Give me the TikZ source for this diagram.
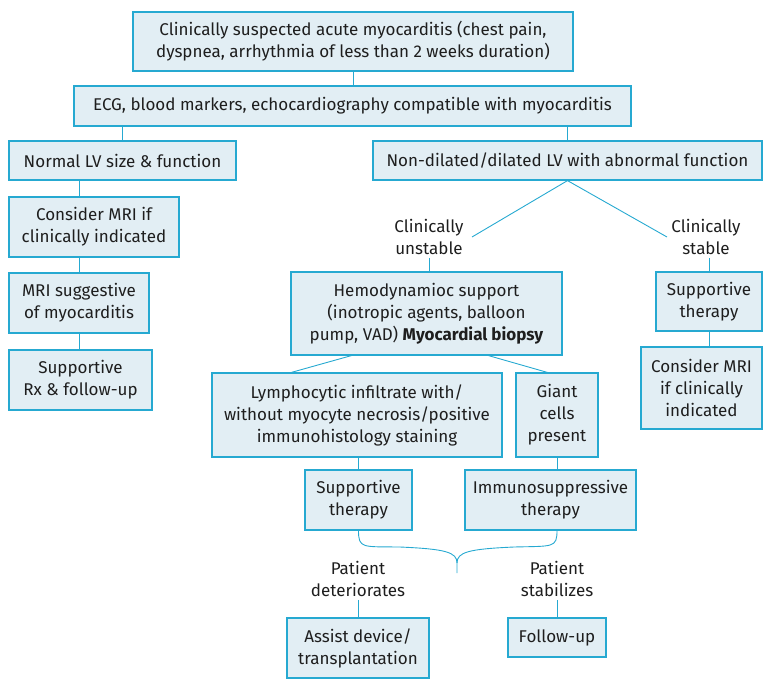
\documentclass[tikz,border=0pt]{standalone}
\usepackage{fontspec}
\setmainfont{Fira Sans}
\usetikzlibrary{calc}
\definecolor{lineblue}{RGB}{38,169,209}
\definecolor{boxfill}{RGB}{226,238,244}
\definecolor{inkgray}{RGB}{30,30,30}
\tikzset{
  box/.style={draw=lineblue, fill=boxfill, line width=1.2pt, align=center, inner sep=0pt, text=inkgray},
  link/.style={draw=lineblue, line width=0.9pt},
  lbl/.style={align=center, inner sep=3pt, text=inkgray}
}
\begin{document}
\begin{tikzpicture}[x=1pt, y=-1pt, font=\fontsize{17}{22}\selectfont]
  \useasboundingbox (0,0) rectangle (763,683);
  %--- Top
  \node[box, minimum width=440pt, minimum height=59pt] (top) at (353,41.5)
    {Clinically suspected acute myocarditis (chest pain,\\dyspnea, arrhythmia of less than 2 weeks duration)};
  \node[box, minimum width=557pt, minimum height=40pt] (ecg) at (352.5,106)
    {ECG, blood markers, echocardiography compatible with myocarditis};
  \draw[link] (top.south) -- (top.south |- ecg.north);
  %--- Left branch
  \node[box, minimum width=227pt, minimum height=39pt] (normal) at (122.5,160.5) {Normal LV size \& function};
  \node[box, minimum width=170pt, minimum height=60pt] (mriA) at (94,227) {Consider MRI if\\clinically indicated};
  \node[box, minimum width=140pt, minimum height=60pt] (mriB) at (79,303) {MRI suggestive\\of myocarditis};
  \node[box, minimum width=143pt, minimum height=60pt] (rx) at (80.5,380) {Supportive\\Rx \& follow-up};
  \draw[link] (normal.north |- ecg.south) -- (normal.north);
  \draw[link] (mriB.north |- normal.south) -- (mriB.north |- mriA.north);
  \draw[link] (mriB.north |- mriA.south) -- (mriB.north);
  \draw[link] (mriB.south) -- (mriB.south |- rx.north);
  %--- Right branch
  \node[box, minimum width=389pt, minimum height=39pt] (nondil) at (567.5,160.5)
    {Non-dilated/dilated LV with abnormal function};
  \draw[link] (nondil.north |- ecg.south) -- (nondil.north);
  \coordinate (ul) at (472,237);
  \coordinate (sl) at (667,237);
  \draw[link] (ul) -- (nondil.south) -- (sl);
  \node[lbl] (unstable) at (429,237) {Clinically\\unstable};
  \node[lbl] (stable) at (706,237) {Clinically\\stable};
  %--- Stable
  \node[box, minimum width=106pt, minimum height=59pt] (suppC) at (709,301.5) {Supportive\\therapy};
  \node[box, minimum width=121pt, minimum height=82pt] (mriC) at (701.5,388) {Consider MRI\\if clinically\\indicated};
  \draw[link] (suppC.north |- stable.south) -- (suppC.north);
  \draw[link] (suppC.south) -- (suppC.south |- mriC.north);
  %--- Unstable
  \node[box, minimum width=271pt, minimum height=83pt] (hemo) at (426.5,313.5)
    {Hemodynamioc support\\(inotropic agents, balloon\\pump, VAD) \textbf{Myocardial biopsy}};
  \draw[link] (unstable.south) -- (unstable.south |- hemo.north);
  \node[box, minimum width=290pt, minimum height=84pt] (lymph) at (357,415)
    {Lymphocytic infiltrate with/\\without myocyte necrosis/positive\\immunohistology staining};
  \node[box, minimum width=82pt, minimum height=84pt] (giant) at (557,415) {Giant\\cells\\present};
  \draw[link] ([xshift=61pt]hemo.south west) -- ([xshift=80pt]lymph.north west);
  \draw[link] ([xshift=-74pt]hemo.south east) -- ([xshift=32pt]giant.north west);
  \node[box, minimum width=107pt, minimum height=60pt] (suppA) at (358.5,500) {Supportive\\therapy};
  \node[box, minimum width=171pt, minimum height=60pt] (immuno) at (550.5,500) {Immunosuppressive\\therapy};
  \draw[link] (suppA.north |- lymph.south) -- (suppA.north);
  \draw[link] (giant.south) -- (giant.south |- immuno.north);
  %--- Brace
  \coordinate (tip) at (457,573);
  \draw[link] (suppA.south) .. controls ($(suppA.south)+(0,18)$) and ($(suppA.south)+(4,16)$) .. (400,547)
    .. controls (445,549) and (457,552) .. (457,563) -- (tip);
  \draw[link] (giant.south |- immuno.south) .. controls (557,548) and (553,546) .. (514,547)
    .. controls (469,549) and (457,552) .. (457,563);
  %--- Outcome
  \node[lbl] (worse) at (358,579) {Patient\\deteriorates};
  \node[lbl] (better) at (557,579) {Patient\\stabilizes};
  \node[box, minimum width=142pt, minimum height=60pt] (assist) at (358,648) {Assist device/\\transplantation};
  \node[box, minimum width=98pt, minimum height=39pt] (follow) at (557,637.5) {Follow-up};
  \draw[link] (worse.south) -- (worse.south |- assist.north);
  \draw[link] (better.south) -- (follow.north);
\end{tikzpicture}
\end{document}
